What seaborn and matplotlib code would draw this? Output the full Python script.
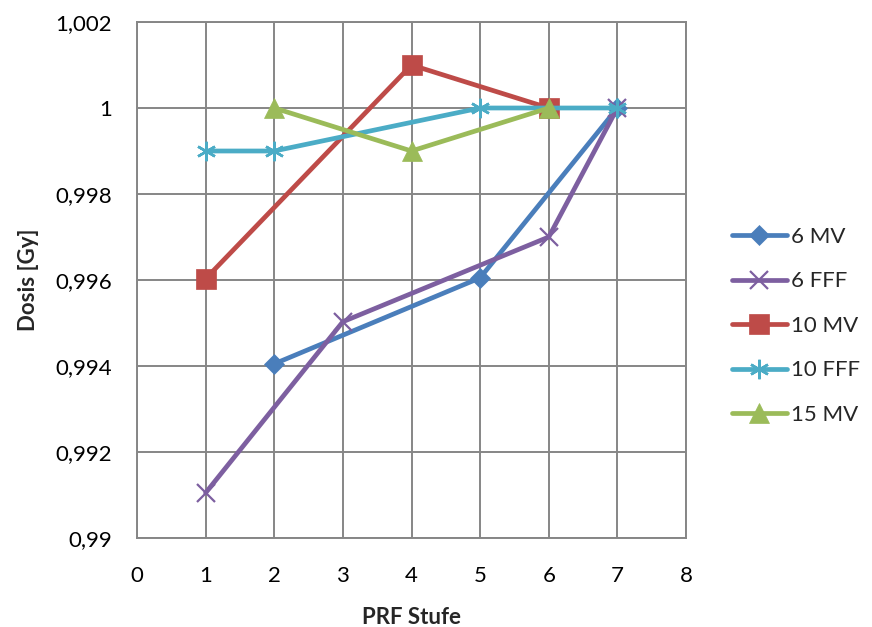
import matplotlib
matplotlib.use("Agg")
import matplotlib.pyplot as plt
import matplotlib.ticker as mticker
from matplotlib.lines import Line2D
import seaborn as sns
import pandas as pd

# PRF levels and measured dose per beam quality
series_names = ["6 MV", "6 FFF", "10 MV", "10 FFF", "15 MV"]
x_6mv = [2, 5, 7]
y_6mv = [0.99405, 0.99605, 1.0]
x_6fff = [1, 3, 6, 7]
y_6fff = [0.99105, 0.99503, 0.997, 1.0]
x_10mv = [1, 4, 6]
y_10mv = [0.99603, 1.001, 1.0]
x_10fff = [1, 2, 5, 7]
y_10fff = [0.999, 0.999, 1.0, 1.0]
x_15mv = [2, 4, 6]
y_15mv = [1.0, 0.999, 1.0]

x_ticks = [0, 1, 2, 3, 4, 5, 6, 7, 8]
y_ticks = [0.99, 0.992, 0.994, 0.996, 0.998, 1.0, 1.002]

colors = ["#4A7EBB", "#7D5FA0", "#BE4B48", "#4BACC6", "#9BBB59"]
markers = ["D", "x", "s", (6, 2, 0), "^"]
msizes = [10, 13, 15, 14, 14]
medge = [0.5, 1.6, 0.5, 1.8, 0.5]

sns.set_theme(style="white")
plt.rcParams["font.family"] = ["Lato", "DejaVu Sans"]

frames = []
for name, xs, ys in zip(series_names,
                        [x_6mv, x_6fff, x_10mv, x_10fff, x_15mv],
                        [y_6mv, y_6fff, y_10mv, y_10fff, y_15mv]):
    frames.append(pd.DataFrame({"PRF": xs, "Dosis": ys, "Serie": name}))
df = pd.concat(frames, ignore_index=True)

fig = plt.figure(figsize=(8.72, 6.27), dpi=100)
ax = fig.add_axes([137 / 872, 89 / 627, 549 / 872, 516 / 627])

for i, name in enumerate(series_names):
    sub = df[df["Serie"] == name]
    sns.lineplot(data=sub, x="PRF", y="Dosis", ax=ax, color=colors[i],
                 linewidth=3.4, marker=markers[i], markersize=msizes[i],
                 markeredgecolor=colors[i], markeredgewidth=medge[i],
                 solid_capstyle="round", zorder=3 + i, legend=False)

ax.set_xlim(0, 8)
ax.set_ylim(0.99, 1.002)
ax.set_xticks(x_ticks)
ax.set_yticks(y_ticks)
ax.yaxis.set_major_formatter(mticker.FuncFormatter(
    lambda v, p: ("%g" % round(v, 3)).replace(".", ",")))
ax.grid(True, color="#868686", linewidth=1.4)
for s in ax.spines.values():
    s.set_color("#868686")
    s.set_linewidth(1.4)
ax.tick_params(axis="x", labelsize=16, length=0, pad=20, colors="black")
ax.tick_params(axis="y", labelsize=16, length=0, pad=18, colors="black")
ax.set_xlabel("PRF Stufe", fontsize=16, fontweight="bold", labelpad=15)
ax.set_ylabel("Dosis [Gy]", fontsize=16, fontweight="bold", labelpad=12)

handles = [Line2D([0], [0], color=colors[i], linewidth=3.4, marker=markers[i],
                  markersize=msizes[i], markeredgecolor=colors[i],
                  markeredgewidth=medge[i], solid_capstyle="round")
           for i in range(len(series_names))]
ax.legend(handles, series_names, loc="center left", bbox_to_anchor=(1.067, 0.411),
          frameon=False, fontsize=16, handlelength=2.5, handletextpad=0.15,
          labelspacing=1.1, borderaxespad=0)

fig.savefig("out.png", dpi=100)
